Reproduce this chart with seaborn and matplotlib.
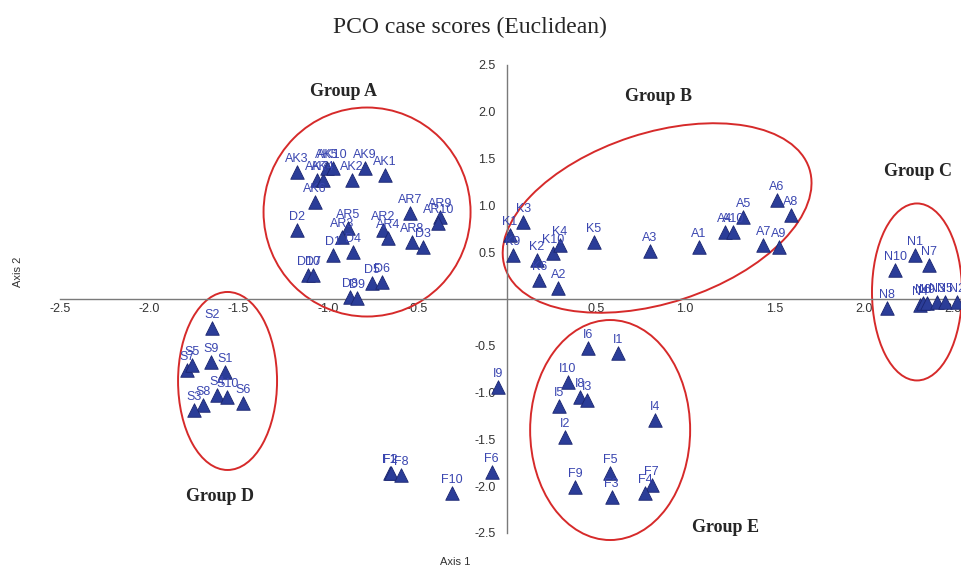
import matplotlib

matplotlib.use("Agg")

import matplotlib.pyplot as plt
import matplotlib.transforms as mtransforms
import numpy as np
import pandas as pd
import seaborn as sns
from matplotlib.patches import Ellipse

# Case scores (Axis 1, Axis 2)
point_labels = [
    "AK3", "AK7", "AK4", "AK5", "AK10", "AK6", "AK2", "AK9", "AK1",
    "D2", "AR5", "AR3", "AR2", "AR4", "AR7", "AR9", "AR10", "AR8", "D3",
    "D1", "D4", "D10", "D7", "D5", "D6", "D8", "D9",
    "K1", "K9", "K3", "K2", "K10", "K4", "K6", "A2", "K5",
    "A3", "A1", "A4", "A10", "A5", "A6", "A8", "A7", "A9",
    "N1", "N10", "N7", "N8", "N4", "N6", "N9", "N3", "N5", "N2",
    "S2", "S7", "S5", "S9", "S1", "S4", "S10", "S8", "S3", "S6",
    "F1", "F2", "F8", "F10", "F6", "I9",
    "I6", "I1", "I10", "I8", "I3", "I5", "I4", "I2",
    "F5", "F9", "F3", "F7", "F4",
]
axis1_scores = [
    -1.175, -1.063, -1.027, -1.007, -0.973, -1.072, -0.867, -0.792, -0.680,
    -1.175, -0.886, -0.923, -0.690, -0.662, -0.540, -0.372, -0.382, -0.531, -0.466,
    -0.970, -0.858, -1.110, -1.082, -0.755, -0.699, -0.876, -0.835,
    0.020, 0.035, 0.094, 0.169, 0.262, 0.300, 0.184, 0.290, 0.490,
    0.803, 1.078, 1.223, 1.270, 1.326, 1.513, 1.591, 1.438, 1.526,
    2.287, 2.175, 2.367, 2.132, 2.315, 2.332, 2.353, 2.409, 2.455, 2.521,
    -1.651, -1.791, -1.759, -1.656, -1.576, -1.623, -1.563, -1.701, -1.750, -1.474,
    -0.655, -0.648, -0.592, -0.307, -0.083, -0.046,
    0.458, 0.623, 0.343, 0.412, 0.449, 0.296, 0.831, 0.328,
    0.580, 0.384, 0.589, 0.813, 0.775,
]
axis2_scores = [
    1.360, 1.271, 1.271, 1.396, 1.396, 1.040, 1.271, 1.396, 1.325,
    0.737, 0.755, 0.666, 0.737, 0.648, 0.916, 0.879, 0.809, 0.612, 0.559,
    0.470, 0.505, 0.256, 0.256, 0.168, 0.185, 0.025, 0.007,
    0.684, 0.470, 0.826, 0.417, 0.488, 0.577, 0.203, 0.114, 0.612,
    0.516, 0.552, 0.719, 0.719, 0.879, 1.058, 0.897, 0.577, 0.559,
    0.470, 0.310, 0.363, -0.099, -0.064, -0.043, -0.046, -0.029, -0.029, -0.029,
    -0.313, -0.759, -0.705, -0.670, -0.777, -1.026, -1.044, -1.132, -1.186, -1.114,
    -1.860, -1.862, -1.880, -2.076, -1.845, -0.937,
    -0.527, -0.580, -0.884, -1.044, -1.079, -1.143, -1.293, -1.471,
    -1.862, -2.005, -2.112, -1.987, -2.076,
]

tick_values = [-2.5, -2.0, -1.5, -1.0, -0.5, 0.5, 1.0, 1.5, 2.0, 2.5]

# Group outlines: centre in data units, size in pixels, rotation in degrees
group_names = ["Group A", "Group B", "Group C", "Group D", "Group E"]
group_label_x = [-0.915, 0.848, 2.304, -1.604, 1.229]
group_label_y = [2.212, 2.158, 1.357, -2.105, -2.436]
ellipse_cx = [-0.781, 0.843, 2.298, -1.562, 0.580]
ellipse_cy = [0.929, 0.865, 0.075, -0.876, -1.400]
ellipse_w_px = [207, 320, 90, 99, 160]
ellipse_h_px = [209, 170, 177, 178, 220]
ellipse_angle = [0, 18, 0, 0, 0]

MARKER_COLOR = "#2b3d98"
MARKER_EDGE = "#1b2670"
LABEL_COLOR = "#3a46b0"
RING_COLOR = "#d62a2a"
AXIS_COLOR = "#7a7a7a"

sns.set_style("white")
plt.rcParams["font.family"] = ["Liberation Sans", "DejaVu Sans"]

df = pd.DataFrame({"label": point_labels, "axis1": axis1_scores, "axis2": axis2_scores})

fig = plt.figure(figsize=(9.62, 5.68), dpi=100)
ax = fig.add_axes([0, 0, 1, 1])

sns.scatterplot(
    data=df,
    x="axis1",
    y="axis2",
    marker="^",
    s=95,
    color=MARKER_COLOR,
    edgecolor=MARKER_EDGE,
    linewidth=0.6,
    ax=ax,
    zorder=3,
    clip_on=False,
)

for _, row in df.iterrows():
    ax.annotate(
        row["label"],
        (row["axis1"], row["axis2"]),
        xytext=(0, 5),
        textcoords="offset points",
        ha="center",
        va="bottom",
        fontsize=9,
        color=LABEL_COLOR,
        zorder=4,
    )

ax.set_xlim(-2.836, 2.550)
ax.set_ylim(-2.874, 3.194)

# Spines through the origin
for side in ["top", "right"]:
    ax.spines[side].set_visible(False)
ax.spines["left"].set_position(("data", 0))
ax.spines["bottom"].set_position(("data", 0))
ax.spines["left"].set_bounds(-2.5, 2.5)
ax.spines["bottom"].set_bounds(-2.5, 2.6)
for side in ["left", "bottom"]:
    ax.spines[side].set_color(AXIS_COLOR)
    ax.spines[side].set_linewidth(1.0)

ax.set_xticks(tick_values)
ax.set_yticks(tick_values)
ax.set_xticklabels([f"{v:.1f}" for v in tick_values])
ax.set_yticklabels([f"{v:.1f}" for v in tick_values])
ax.tick_params(axis="x", direction="in", length=7, width=1.0, color=AXIS_COLOR,
               labelsize=9, labelcolor="#333333", pad=3)
ax.tick_params(axis="y", direction="out", length=6, width=1.0, color=AXIS_COLOR,
               labelsize=9, labelcolor="#333333", pad=2)
ax.set_xlabel("")
ax.set_ylabel("")
ax.patch.set_alpha(0)

# Red group outlines drawn in pixel size around data centres
for cx, cy, w, h, ang in zip(ellipse_cx, ellipse_cy, ellipse_w_px, ellipse_h_px, ellipse_angle):
    trans = fig.dpi_scale_trans + mtransforms.ScaledTranslation(cx, cy, ax.transData)
    ring = Ellipse((0, 0), w / 100, h / 100, angle=ang, transform=trans,
                   fill=False, edgecolor=RING_COLOR, linewidth=1.4, zorder=2,
                   clip_on=False)
    ax.add_patch(ring)

for name, gx, gy in zip(group_names, group_label_x, group_label_y):
    ax.text(gx, gy, name, ha="center", va="center", fontsize=13,
            fontweight="bold", family=["Liberation Serif", "DejaVu Serif"])

fig.text(0.4886, 0.951, "PCO case scores (Euclidean)", ha="center", va="center",
         fontsize=17, family=["Liberation Serif", "DejaVu Serif"])
fig.text(0.473, 0.011, "Axis 1", ha="center", va="center", fontsize=8, color="#333333")
fig.text(0.0187, 0.521, "Axis 2", ha="center", va="center", fontsize=8,
         rotation=90, color="#333333")

fig.savefig("out.png", dpi=100)
plt.close(fig)
